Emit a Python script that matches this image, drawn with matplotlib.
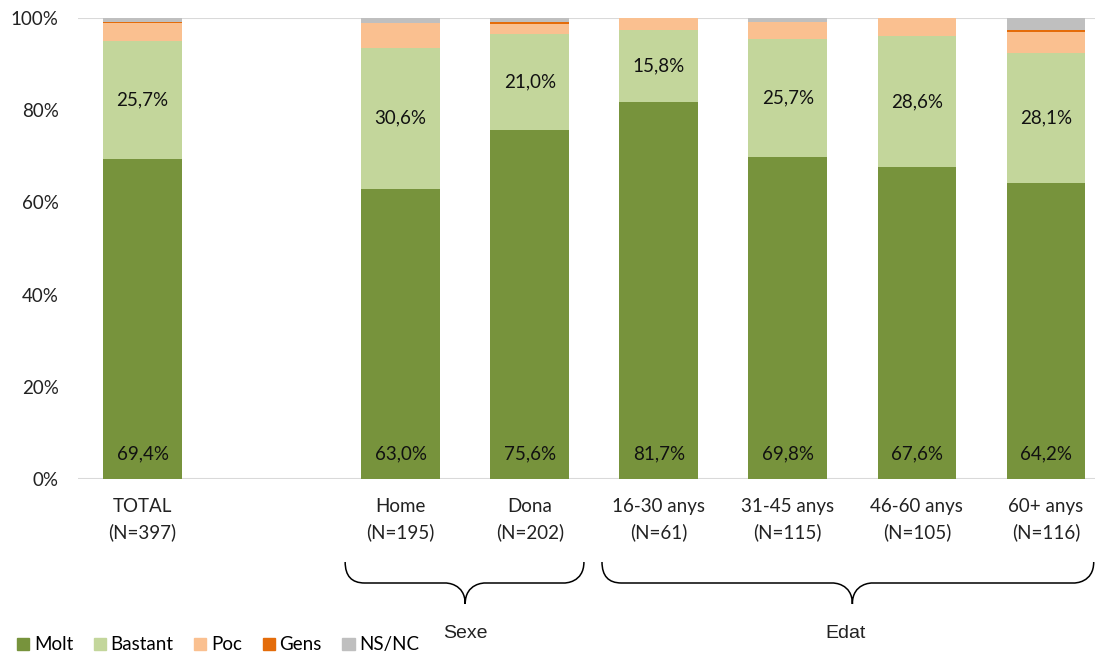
import numpy as np
import matplotlib.pyplot as plt
from matplotlib.path import Path
from matplotlib.patches import PathPatch, Patch
import matplotlib.transforms as mtransforms

# categories (position 1 is an empty gap)
labels = ['TOTAL\n(N=397)', 'Home\n(N=195)', 'Dona\n(N=202)', '16-30 anys\n(N=61)',
          '31-45 anys\n(N=115)', '46-60 anys\n(N=105)', '60+ anys\n(N=116)']
positions = [0, 2, 3, 4, 5, 6, 7]

molt = [69.4, 63.0, 75.6, 81.7, 69.8, 67.6, 64.2]
bastant = [25.7, 30.6, 21.0, 15.8, 25.7, 28.6, 28.1]
poc = [3.8, 5.4, 2.0, 2.5, 3.6, 3.8, 4.6]
gens = [0.3, 0.0, 0.5, 0.0, 0.0, 0.0, 0.6]
nsnc = [0.8, 1.0, 0.9, 0.0, 0.9, 0.0, 2.5]

series = [('Molt', molt, '#77933c'), ('Bastant', bastant, '#c3d69b'),
          ('Poc', poc, '#fac090'), ('Gens', gens, '#e46c0a'), ('NS/NC', nsnc, '#bfbfbf')]

plt.rcParams['font.family'] = ['Lato', 'DejaVu Sans']
fs = 13.5

fig = plt.figure(figsize=(10.95, 6.54), dpi=100)
ax = fig.add_axes([78 / 1095, 175 / 654, (1095 - 78) / 1095, 461 / 654])

bottom = np.zeros(len(positions))
for name, vals, col in series:
    ax.bar(positions, vals, bottom=bottom, width=0.61, color=col, label=name, zorder=2)
    bottom += np.array(vals)

# data labels
for x, m, b in zip(positions, molt, bastant):
    ax.text(x, 5.5, f'{m:.1f}%'.replace('.', ','), ha='center', va='center', fontsize=fs, color='#111111')
    ax.text(x, m + b / 2, f'{b:.1f}%'.replace('.', ','), ha='center', va='center', fontsize=fs, color='#111111')

ax.set_xlim(-0.5, 7.38)
ax.set_ylim(0, 100)
ax.set_xticks(positions)
ax.set_xticklabels(labels, fontsize=fs, color='#222222', linespacing=1.5)
ax.set_yticks(np.arange(0, 101, 20))
ax.set_yticklabels([f'{v}%' for v in range(0, 101, 20)], fontsize=fs, color='#222222')
ax.tick_params(axis='x', length=0, pad=14)
ax.tick_params(axis='y', length=0, pad=14)
for s in ax.spines.values():
    s.set_visible(False)
ax.axhline(0, color='#d9d9d9', lw=1.5, zorder=1)
ax.axhline(100, color='#d9d9d9', lw=1.5, zorder=1)


def brace(x0, x1, xm):
    # x in data coords, y in figure pixels
    trans = mtransforms.blended_transform_factory(ax.transData, fig.dpi_scale_trans)
    top = (654 - 562) / 100
    mid = (654 - 583) / 100
    tip = (654 - 604) / 100
    r = 0.15
    verts = [(x0, top), (x0, mid), (x0 + r, mid), (x0 + r, mid),
             (xm - r, mid), (xm - r, mid), (xm, mid), (xm, tip),
             (xm, mid), (xm + r, mid), (xm + r, mid),
             (x1 - r, mid), (x1 - r, mid), (x1, mid), (x1, top)]
    codes = [Path.MOVETO, Path.CURVE3, Path.CURVE3, Path.LINETO,
             Path.LINETO, Path.CURVE4, Path.CURVE4, Path.CURVE4,
             Path.CURVE4, Path.CURVE4, Path.CURVE4,
             Path.LINETO, Path.CURVE4, Path.CURVE4, Path.CURVE4]
    p = PathPatch(Path(verts, codes), fill=False, lw=1.1, color='black', transform=trans, clip_on=False)
    ax.add_patch(p)


brace(2 - 0.43, 3 + 0.42, 2.5)
brace(4 - 0.44, 7 + 0.37, 5.5)
fig.text(465 / 1095, 1 - 633 / 654, 'Sexe', ha='center', va='center', fontsize=14,
         family='Liberation Sans', color='#222222')
fig.text(846 / 1095, 1 - 633 / 654, 'Edat', ha='center', va='center', fontsize=14,
         family='Liberation Sans', color='#222222')

handles = [Patch(color=c) for _, _, c in series]
fig.legend(handles, [n for n, _, _ in series], loc='lower left', bbox_to_anchor=(0.0, -0.025),
           ncol=5, frameon=False, fontsize=fs, handlelength=0.65, handleheight=0.65,
           handletextpad=0.25, columnspacing=1.1)

fig.savefig('out.png', dpi=100)
